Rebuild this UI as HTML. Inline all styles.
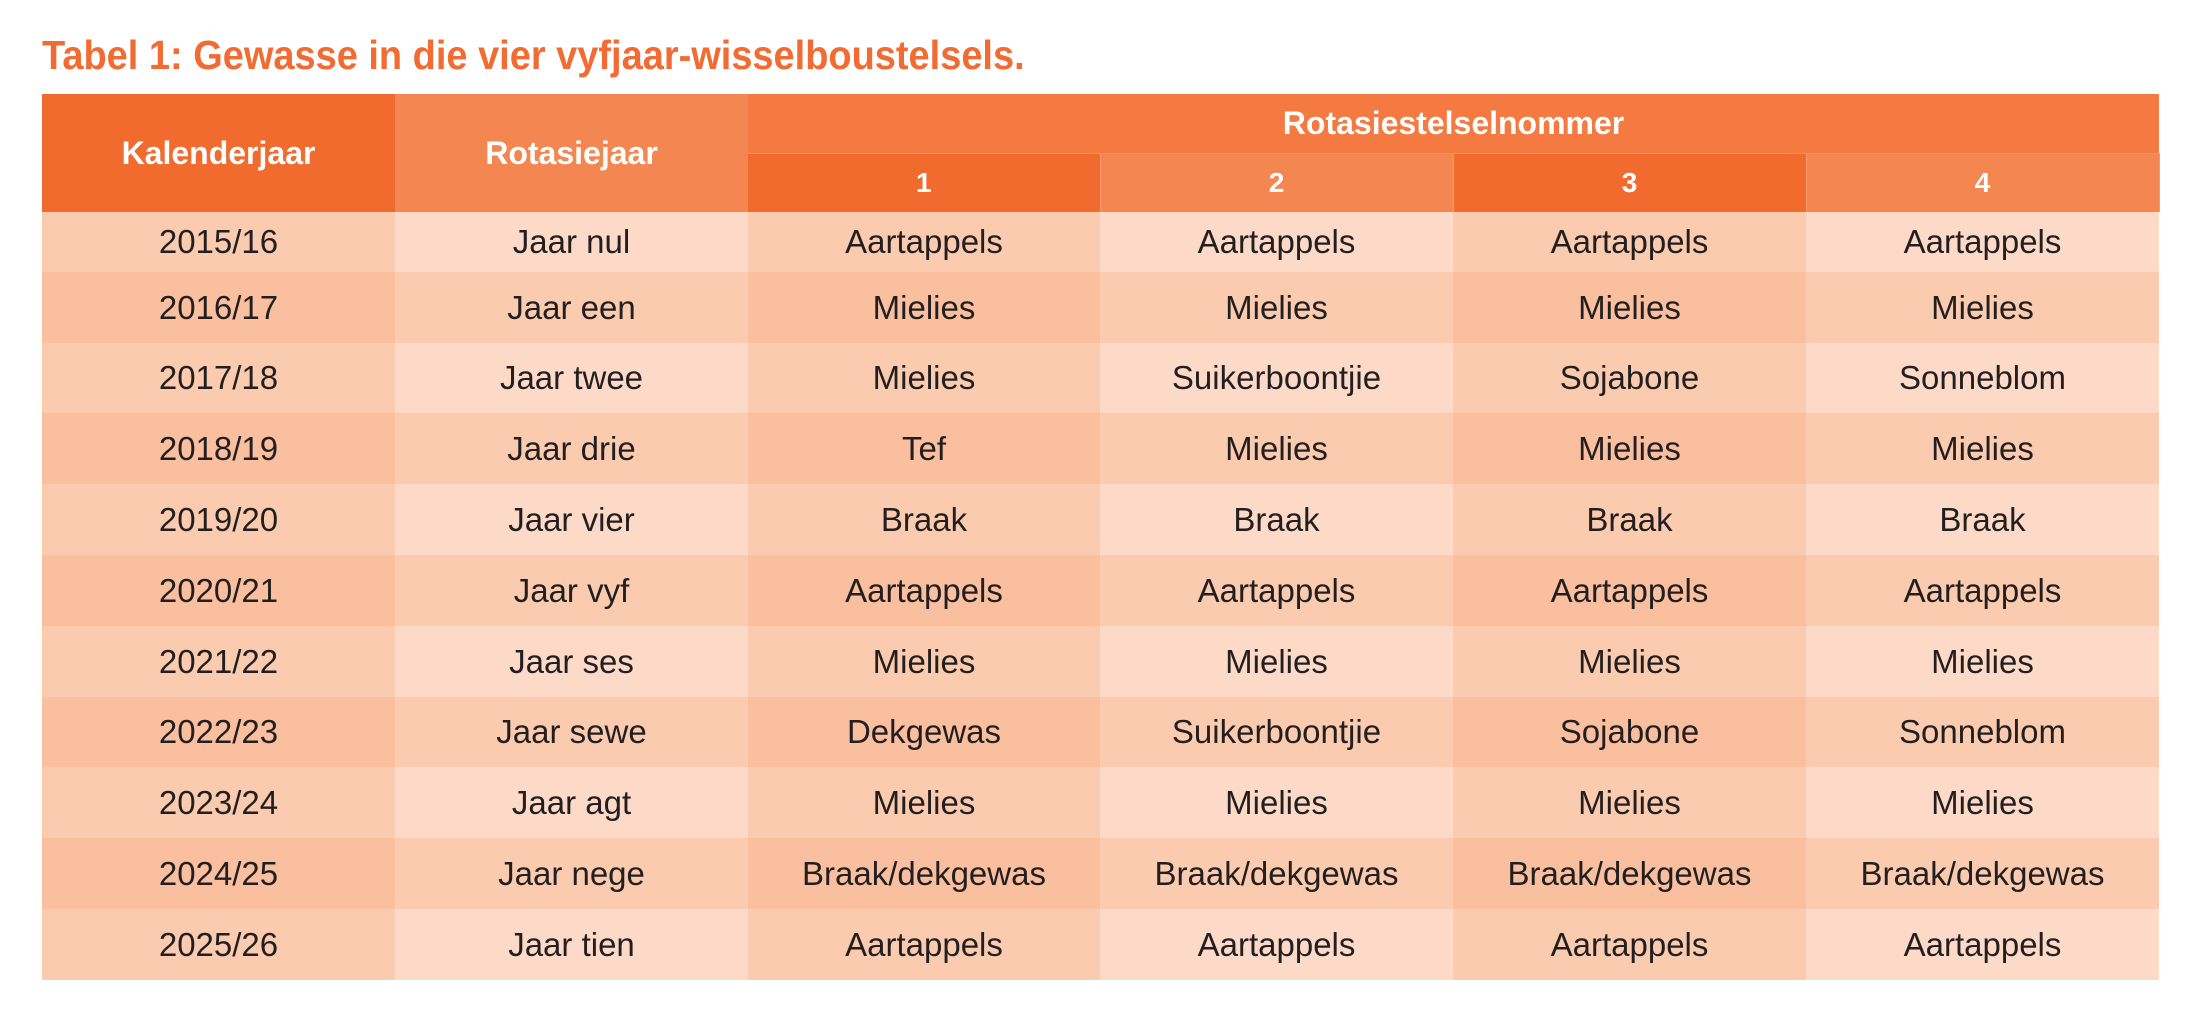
<!DOCTYPE html>
<html>
<head>
<meta charset="utf-8">
<style>
html,body{margin:0;padding:0;background:#fff;}
body{width:2208px;height:1012px;position:relative;overflow:hidden;font-family:"Liberation Sans",Arial,sans-serif;}
.title{position:absolute;left:42px;top:35px;font-size:41px;line-height:41px;font-weight:bold;color:#F26B32;white-space:nowrap;transform:scaleX(0.926);transform-origin:0 0;}
table{position:absolute;left:42px;top:94px;border-collapse:collapse;border-spacing:0;table-layout:fixed;width:2117px;}
td,th{padding:0;text-align:center;vertical-align:middle;white-space:nowrap;overflow:hidden;}
th{color:#fff;font-weight:bold;font-size:32px;}
th.d{background:#F16A2E;}
th.l{background:#F48751;}
th.s{background:#F47A42;border-bottom:1px solid #F69062;}
th.n{font-size:28px;}
th.l.n{border-left:1px solid #F79A6C;border-right:1px solid #F79A6C;}
tr.h1{height:59px;}
tr.h2{height:59px;}
td{font-size:33px;color:#231F20;}
tr.o td:nth-child(odd){background:#FBCBAF;}
tr.o td:nth-child(even){background:#FCDAC7;}
tr.e td:nth-child(odd){background:#F9BF9F;}
tr.e td:nth-child(even){background:#FBCBAF;}
</style>
</head>
<body>
<div class="title">Tabel 1: Gewasse in die vier vyfjaar-wisselboustelsels.</div>
<table>
<colgroup>
<col style="width:353px"><col style="width:353px"><col style="width:352px"><col style="width:353px"><col style="width:353px"><col style="width:353px">
</colgroup>
<tr class="h1">
<th class="d" rowspan="2">Kalenderjaar</th>
<th class="l" rowspan="2">Rotasiejaar</th>
<th class="s" colspan="4">Rotasiestelselnommer</th>
</tr>
<tr class="h2">
<th class="d n">1</th><th class="l n">2</th><th class="d n">3</th><th class="l n">4</th>
</tr>
<tr class="o" style="height:60px"><td>2015/16</td><td>Jaar nul</td><td>Aartappels</td><td>Aartappels</td><td>Aartappels</td><td>Aartappels</td></tr>
<tr class="e" style="height:71px"><td>2016/17</td><td>Jaar een</td><td>Mielies</td><td>Mielies</td><td>Mielies</td><td>Mielies</td></tr>
<tr class="o" style="height:70px"><td>2017/18</td><td>Jaar twee</td><td>Mielies</td><td>Suikerboontjie</td><td>Sojabone</td><td>Sonneblom</td></tr>
<tr class="e" style="height:71px"><td>2018/19</td><td>Jaar drie</td><td>Tef</td><td>Mielies</td><td>Mielies</td><td>Mielies</td></tr>
<tr class="o" style="height:71px"><td>2019/20</td><td>Jaar vier</td><td>Braak</td><td>Braak</td><td>Braak</td><td>Braak</td></tr>
<tr class="e" style="height:71px"><td>2020/21</td><td>Jaar vyf</td><td>Aartappels</td><td>Aartappels</td><td>Aartappels</td><td>Aartappels</td></tr>
<tr class="o" style="height:71px"><td>2021/22</td><td>Jaar ses</td><td>Mielies</td><td>Mielies</td><td>Mielies</td><td>Mielies</td></tr>
<tr class="e" style="height:70px"><td>2022/23</td><td>Jaar sewe</td><td>Dekgewas</td><td>Suikerboontjie</td><td>Sojabone</td><td>Sonneblom</td></tr>
<tr class="o" style="height:71px"><td>2023/24</td><td>Jaar agt</td><td>Mielies</td><td>Mielies</td><td>Mielies</td><td>Mielies</td></tr>
<tr class="e" style="height:71px"><td>2024/25</td><td>Jaar nege</td><td>Braak/dekgewas</td><td>Braak/dekgewas</td><td>Braak/dekgewas</td><td>Braak/dekgewas</td></tr>
<tr class="o" style="height:71px"><td>2025/26</td><td>Jaar tien</td><td>Aartappels</td><td>Aartappels</td><td>Aartappels</td><td>Aartappels</td></tr>
</table>
</body>
</html>
